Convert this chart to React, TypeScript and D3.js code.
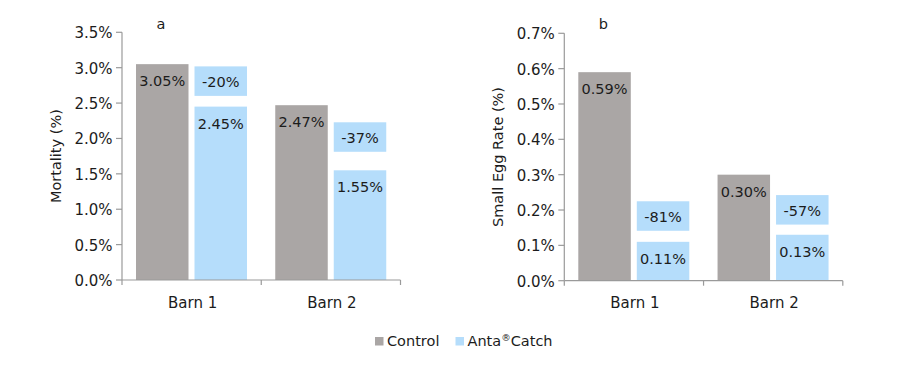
import * as d3 from "d3";

const barns = ["Barn 1", "Barn 2"];
const seriesNames = ["Control", "Anta®Catch"];

// panel a: mortality (%)
const mortalityControl = [3.05, 2.47];
const mortalityAnta = [2.45, 1.55];
const mortalityChange = ["-20%", "-37%"];
const mortalityChangeAt = [2.81, 2.02];
const mortalityTicks = [0, 0.5, 1, 1.5, 2, 2.5, 3, 3.5];

// panel b: small egg rate (%)
const smallEggControl = [0.59, 0.3];
const smallEggAnta = [0.11, 0.13];
const smallEggChange = ["-81%", "-57%"];
const smallEggChangeAt = [0.183, 0.2005];
const smallEggTicks = [0, 0.1, 0.2, 0.3, 0.4, 0.5, 0.6, 0.7];

const GRAY = "#aaa6a5";
const BLUE = "#b5ddfb";
const AXIS = "#9a9a9a";
const INK = "#1c1c1c";
const FONT = "'DejaVu Sans', Verdana, sans-serif";

interface PanelProps {
  letter: string;
  title: string;
  axisX: number;
  top: number;
  bottom: number;
  max: number;
  ticks: number[];
  control: number[];
  anta: number[];
  change: string[];
  changeAt: number[];
}

function Panel({ letter, title, axisX, top, bottom, max, ticks, control, anta, change, changeAt }: PanelProps) {
  const plotWidth = 278.5;
  const y = d3.scaleLinear().domain([0, max]).range([bottom, top]);
  const x = d3.scaleBand().domain(barns).range([axisX, axisX + plotWidth]);
  const inner = d3
    .scaleBand()
    .domain(seriesNames)
    .range([14, 125])
    .paddingInner(0.1026);
  const fmt = (v: number) => `${v.toFixed(1)}%`;
  const boxH = 29.5;

  return (
    <g fontFamily={FONT} fill={INK}>
      <text x={axisX + 39} y={29} fontSize={14.5} textAnchor="middle">
        {letter}
      </text>
      <text
        transform={`translate(${axisX - 61}, ${(top + bottom) / 2}) rotate(-90)`}
        textAnchor="middle"
        fontSize={14.5}
      >
        {title}
      </text>
      {ticks.map((t) => (
        <g key={t} transform={`translate(0, ${y(t)})`}>
          <line x1={axisX - 6} x2={axisX} stroke={AXIS} strokeWidth={1.2} />
          <text x={axisX - 9.5} y={6} textAnchor="end" fontSize={15}>
            {fmt(t)}
          </text>
        </g>
      ))}
      {barns.map((barn, i) => {
        const x0 = x(barn) ?? 0;
        const cx = x0 + inner("Control")!;
        const ax = x0 + inner("Anta®Catch")!;
        const w = inner.bandwidth();
        const boxC = y(changeAt[i]);
        return (
          <g key={barn}>
            <rect x={cx} y={y(control[i])} width={w} height={bottom - y(control[i])} fill={GRAY} />
            <rect x={ax} y={y(anta[i])} width={w} height={bottom - y(anta[i])} fill={BLUE} />
            <rect x={ax} y={boxC - boxH / 2} width={w} height={boxH} fill={BLUE} />
            <text x={cx + w / 2} y={y(control[i]) + 22} textAnchor="middle" fontSize={14.5}>
              {control[i].toFixed(2)}%
            </text>
            <text x={ax + w / 2} y={y(anta[i]) + 22} textAnchor="middle" fontSize={14.5}>
              {anta[i].toFixed(2)}%
            </text>
            <text x={ax + w / 2} y={boxC + 6} textAnchor="middle" fontSize={14.5}>
              {change[i]}
            </text>
            <text x={x0 + x.bandwidth() / 2 + 1} y={308} textAnchor="middle" fontSize={15}>
              {barn}
            </text>
          </g>
        );
      })}
      <line x1={axisX} x2={axisX} y1={top} y2={bottom} stroke={AXIS} strokeWidth={1.2} />
      <line x1={axisX} x2={axisX + plotWidth} y1={bottom} y2={bottom} stroke={AXIS} strokeWidth={1.2} />
      {[0, 1, 2].map((k) => (
        <line
          key={k}
          x1={axisX + k * x.step()}
          x2={axisX + k * x.step()}
          y1={bottom}
          y2={bottom + 5}
          stroke={AXIS}
          strokeWidth={1.2}
        />
      ))}
    </g>
  );
}

export default function App() {
  const legendColors = [GRAY, BLUE];
  const legendX = [375, 455.5];
  return (
    <svg
      width={900}
      height={373}
      viewBox="0 0 900 373"
      style={{ position: "absolute", left: 0, top: 0, background: "#fff" }}
    >
      <rect width={900} height={373} fill="#fff" />
      <Panel
        letter="a"
        title="Mortality (%)"
        axisX={122}
        top={32.3}
        bottom={280}
        max={3.5}
        ticks={mortalityTicks}
        control={mortalityControl}
        anta={mortalityAnta}
        change={mortalityChange}
        changeAt={mortalityChangeAt}
      />
      <Panel
        letter="b"
        title="Small Egg Rate (%)"
        axisX={564.3}
        top={33.3}
        bottom={280.7}
        max={0.7}
        ticks={smallEggTicks}
        control={smallEggControl}
        anta={smallEggAnta}
        change={smallEggChange}
        changeAt={smallEggChangeAt}
      />
      <g fontFamily={FONT} fontSize={14.5} fill={INK}>
        {seriesNames.map((name, i) => (
          <g key={name}>
            <rect x={legendX[i]} y={337} width={8.5} height={8.5} fill={legendColors[i]} />
            <text x={legendX[i] + 12} y={346}>
              {name === "Anta®Catch" ? (
                <>
                  Anta<tspan fontSize={9.5} dy={-5}>®</tspan>
                  <tspan dy={5}>Catch</tspan>
                </>
              ) : (
                name
              )}
            </text>
          </g>
        ))}
      </g>
    </svg>
  );
}
